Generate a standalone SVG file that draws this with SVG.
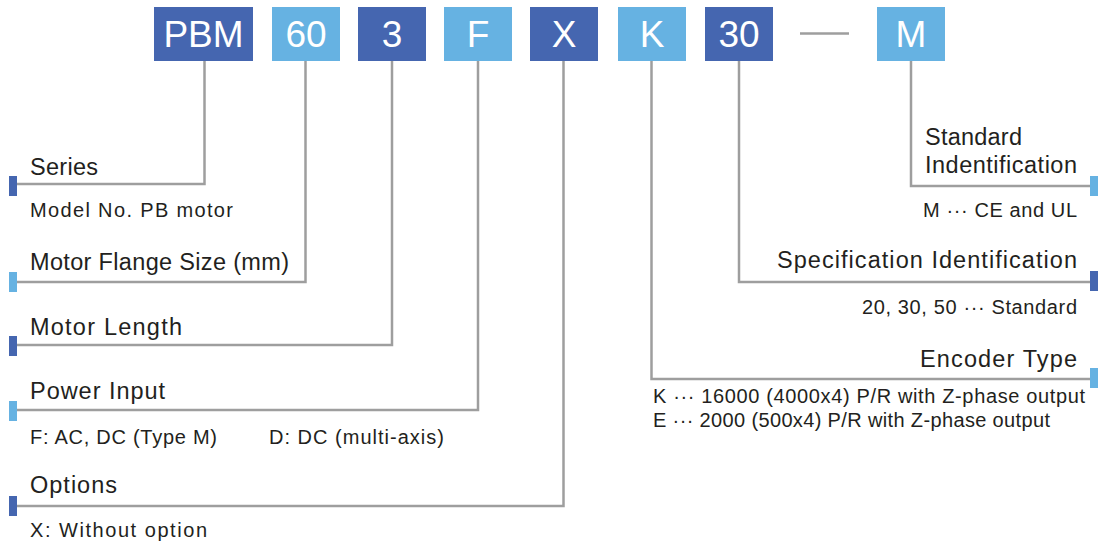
<svg xmlns="http://www.w3.org/2000/svg" width="1098" height="543" viewBox="0 0 1098 543">
<style>
.dk{fill:#4566b0}
.lt{fill:#66b2e2}
.bt{font-family:"Liberation Sans",Arial,sans-serif;font-size:37px;fill:#ffffff;text-anchor:middle}
.h{font-family:"Liberation Sans",Arial,sans-serif;font-size:23.5px;fill:#231f20}
.s{font-family:"Liberation Sans",Arial,sans-serif;font-size:20px;fill:#231f20}
.e{text-anchor:end}
.ln{fill:none;stroke:#9e9e9e;stroke-width:2.5}
</style>
<rect width="1098" height="543" fill="#ffffff"/>
<g id="connectors">
<polyline class="ln" points="204.5,61 204.5,184 17,184"/>
<polyline class="ln" points="305.5,61 305.5,282 17,282"/>
<polyline class="ln" points="392,61 392,345 17,345"/>
<polyline class="ln" points="478,61 478,410 17,410"/>
<polyline class="ln" points="563.5,61 563.5,506 17,506"/>
<polyline class="ln" points="651.5,61 651.5,379 1090,379"/>
<polyline class="ln" points="739,61 739,282 1090,282"/>
<polyline class="ln" points="911,61 911,186 1090,186"/>
<line class="ln" x1="800" y1="33.5" x2="849" y2="33.5" stroke-width="2.7"/>
</g>
<g id="code-PBM"><rect class="dk" x="154" y="7" width="99" height="54"/><text class="bt" x="203.5" y="47">PBM</text></g>
<g id="code-60"><rect class="lt" x="272" y="7" width="68" height="54"/><text class="bt" x="306" y="47">60</text></g>
<g id="code-3"><rect class="dk" x="358" y="7" width="68" height="54"/><text class="bt" x="392" y="47">3</text></g>
<g id="code-F"><rect class="lt" x="444" y="7" width="68" height="54"/><text class="bt" x="478" y="47">F</text></g>
<g id="code-X"><rect class="dk" x="530" y="7" width="68" height="54"/><text class="bt" x="564" y="47">X</text></g>
<g id="code-K"><rect class="lt" x="618" y="7" width="68" height="54"/><text class="bt" x="652" y="47">K</text></g>
<g id="code-30"><rect class="dk" x="705" y="7" width="68" height="54"/><text class="bt" x="739" y="47">30</text></g>
<g id="code-M"><rect class="lt" x="877" y="7" width="68" height="54"/><text class="bt" x="911" y="47">M</text></g>

<g id="series"><rect class="dk" x="9" y="176" width="8" height="20"/>
<text class="h" x="30" y="175" textLength="68" lengthAdjust="spacing">Series</text>
<text class="s" x="30" y="217" textLength="203" lengthAdjust="spacing">Model No. PB motor</text></g>
<g id="flange"><rect class="lt" x="9" y="272" width="8" height="20"/>
<text class="h" x="30" y="270" textLength="259" lengthAdjust="spacing">Motor Flange Size (mm)</text></g>
<g id="length"><rect class="dk" x="9" y="336" width="8" height="20"/>
<text class="h" x="30" y="335" textLength="152" lengthAdjust="spacing">Motor Length</text></g>
<g id="power"><rect class="lt" x="9" y="401" width="8" height="20"/>
<text class="h" x="30" y="399" textLength="135" lengthAdjust="spacing">Power Input</text>
<text class="s" x="30" y="444" textLength="187" lengthAdjust="spacing">F: AC, DC (Type M)</text>
<text class="s" x="269" y="444" textLength="175" lengthAdjust="spacing">D: DC (multi-axis)</text></g>
<g id="options"><rect class="dk" x="9" y="496" width="8" height="20"/>
<text class="h" x="30" y="493" textLength="87" lengthAdjust="spacing">Options</text>
<text class="s" x="30" y="537" textLength="177" lengthAdjust="spacing">X: Without option</text></g>

<g id="standard"><rect class="lt" x="1090" y="176" width="8" height="20"/>
<text class="h" x="925" y="145" textLength="97" lengthAdjust="spacing">Standard</text>
<text class="h" x="925" y="173" textLength="152" lengthAdjust="spacing">Indentification</text>
<text class="s e" x="1077" y="217" textLength="154" lengthAdjust="spacing">M ··· CE and UL</text></g>
<g id="spec"><rect class="dk" x="1090" y="271" width="8" height="20"/>
<text class="h e" x="1077" y="268" textLength="300" lengthAdjust="spacing">Specification Identification</text>
<text class="s e" x="1077" y="314" textLength="215" lengthAdjust="spacing">20, 30, 50 ··· Standard</text></g>
<g id="encoder"><rect class="lt" x="1090" y="368" width="8" height="20"/>
<text class="h e" x="1077" y="367" textLength="157" lengthAdjust="spacing">Encoder Type</text>
<text class="s" x="653" y="403" textLength="432" lengthAdjust="spacing">K ··· 16000 (4000x4) P/R with Z-phase output</text>
<text class="s" x="653" y="427" textLength="397" lengthAdjust="spacing">E ··· 2000 (500x4) P/R with Z-phase output</text></g>
</svg>
